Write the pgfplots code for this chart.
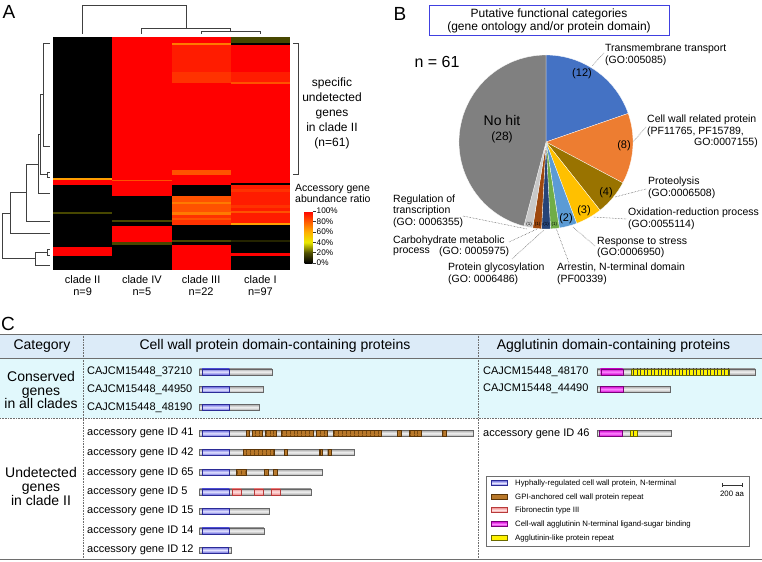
\documentclass[border=0pt]{standalone}
\usepackage{pgfplots}
\pgfplotsset{compat=1.18}
\usepackage{fontspec}
\setmainfont{Liberation Sans}
\usetikzlibrary{patterns.meta}

% pie colours
\definecolor{cTM}{HTML}{4472C4}
\definecolor{cCW}{HTML}{ED7D31}
\definecolor{cPR}{HTML}{997300}
\definecolor{cOX}{HTML}{FFC000}
\definecolor{cRS}{HTML}{5B9BD5}
\definecolor{cAR}{HTML}{70AD47}
\definecolor{cPG}{HTML}{264478}
\definecolor{cCB}{HTML}{9E480E}
\definecolor{cRT}{HTML}{C8C8C8}
\definecolor{cNH}{HTML}{808080}
\definecolor{boxblue}{HTML}{4040E0}
% heatmap colours (read off the colour scale)
\definecolor{h100}{HTML}{FF0000}
\definecolor{h95}{HTML}{FF1C00}
\definecolor{h90}{HTML}{FF3200}
\definecolor{h85}{HTML}{FF5200}
\definecolor{h75}{HTML}{FF7A00}
\definecolor{h65}{HTML}{FF9E00}
\definecolor{h15}{HTML}{474700}
\definecolor{h8}{HTML}{242400}
% table + domains
\definecolor{headbg}{HTML}{DCEBF8}
\definecolor{consbg}{HTML}{E1F8FC}
\definecolor{rule}{HTML}{6E6E6E}
\definecolor{gpi}{HTML}{B8782A}
\definecolor{gpidark}{HTML}{5A3508}
\definecolor{hypD}{HTML}{2B2B96}
\definecolor{hypF}{HTML}{6A6ADE}
\definecolor{hypL}{HTML}{E4E4FF}
\definecolor{magD}{HTML}{7A007A}
\definecolor{magF}{HTML}{D000D0}
\definecolor{magL}{HTML}{FF88FF}
\definecolor{fnD}{HTML}{B83A3A}
\definecolor{fnF}{HTML}{EE8C8C}
\definecolor{fnL}{HTML}{FFE0E0}
\definecolor{yelD}{HTML}{6B6B00}

\pgfplotsset{
  colormap={hm}{rgb255=(0,0,0) rgb255=(80,80,0) rgb255=(235,235,0) rgb255=(255,175,0) rgb255=(255,90,0) rgb255=(255,0,0)},
}

\newcommand\fz[2]{\fontsize{#1bp}{#2bp}\selectfont}
% rectangle drawn as a pgfplots path: x0, x1, y0, y1, style
\newcommand\prect[5]{\addplot[#5] coordinates {(#1,#3) (#2,#3) (#2,#4) (#1,#4)} -- cycle;}

\tikzset{
  dendro/.style={draw=black!75, line width=0.9bp},
  gbar/.style={draw=black!60, line width=0.4bp, top color=black!34, bottom color=black!34, middle color=black!5},
  hyph/.style={draw=hypD, line width=0.4bp, top color=hypF, bottom color=hypF, middle color=hypL},
  magd/.style={draw=magD, line width=0.4bp, top color=magF, bottom color=magF, middle color=magL},
  fnd/.style={draw=fnD, line width=0.4bp, top color=fnF, bottom color=fnF, middle color=fnL},
  gpid/.style={draw=gpidark, line width=0.4bp, fill=gpi, postaction={pattern color=gpidark, pattern={Lines[angle=90,distance=3.6bp,line width=0.6bp]}}},
  yeld/.style={draw=yelD, line width=0.4bp, fill=yellow, postaction={pattern color=black!75, pattern={Lines[angle=90,distance=3.5bp,line width=0.5bp]}}},
  lead/.style={black!75, line width=0.5bp, densely dotted},
  plab/.style={font=\fz{10.5}{11.6}, align=left, anchor=west, inner sep=0pt},
  glab/.style={font=\fz{11}{12}, anchor=west, inner sep=0pt},
  leg/.style={font=\fz{7.8}{8}, anchor=west, inner sep=0pt},
}

\begin{document}
\begin{tikzpicture}[x=1bp,y=-1bp]
\path[use as bounding box] (0,0) rectangle (762,562);

% ---------- panel C table background ----------
\fill[headbg] (0,334) rectangle (762,358);
\fill[consbg] (0,358) rectangle (762,418);
\draw[rule, line width=1bp] (0,334) -- (762,334);
\draw[rule, line width=0.9bp] (0,358) -- (762,358);
\draw[rule, line width=1bp] (0,559) -- (762,559);
\draw[rule, line width=0.6bp, densely dotted] (0,418) -- (762,418);
\draw[rule, line width=0.6bp, densely dotted] (83,334) -- (83,559);
\draw[rule, line width=0.6bp, densely dotted] (478,334) -- (478,559);

% ---------- panel A: column dendrogram ----------
\begin{axis}[at={(53bp,-34bp)}, anchor=south west, scale only axis,
  width=237bp, height=30bp, xmin=0, xmax=4, ymin=0, ymax=30, hide axis, clip=false]
\addplot[dendro] coordinates {(2.5,0) (2.5,3) (3.5,3) (3.5,0)};
\addplot[dendro] coordinates {(1.5,0) (1.5,6) (3,6) (3,3)};
\addplot[dendro] coordinates {(0.5,0) (0.5,29) (2.25,29) (2.25,6)};
\end{axis}

% ---------- panel A: row dendrogram ----------
\begin{axis}[at={(0bp,-37bp)}, anchor=north west, scale only axis,
  width=50bp, height=233bp, xmin=0, xmax=50, x dir=reverse,
  ymin=0, ymax=101, y dir=reverse, hide axis, clip=false]
\addplot[dendro] coordinates {(0,2.7) (6.7,2.7) (6.7,47.5) (0,47.5)};
\addplot[dendro] coordinates {(0,58.5) (3,58.5) (3,61) (0,61)};
\addplot[dendro] coordinates {(6.7,25.1) (10,25.1) (10,59.75) (3,59.75)};
\addplot[dendro] coordinates {(10,42.4) (11.7,42.4) (11.7,67.8) (0,67.8)};
\addplot[dendro] coordinates {(11.7,55.1) (24,55.1) (24,80) (0,80)};
\addplot[dendro] coordinates {(24,67.5) (40,67.5) (40,85) (0,85)};
\addplot[dendro] coordinates {(0,92) (3,92) (3,94.5) (0,94.5)};
\addplot[dendro] coordinates {(3,93.25) (15,93.25) (15,99) (0,99)};
\addplot[dendro] coordinates {(40,76.3) (47.3,76.3) (47.3,96.1) (15,96.1)};
\end{axis}

% ---------- panel A: heatmap (columns: clade II, IV, III, I; rows = genes) ----------
\begin{axis}[at={(53bp,-37bp)}, anchor=north west, scale only axis,
  width=237bp, height=233bp, xmin=0, xmax=4, ymin=0, ymax=101, y dir=reverse, hide axis]
% clade II
\prect{0}{1}{0}{101}{draw=none, fill=black}
\prect{0}{1}{61}{62}{draw=none, fill=h65}
\prect{0}{1}{62}{64}{draw=none, fill=h100}
\prect{0}{1}{76}{76.7}{draw=none, fill=h15}
\prect{0}{1}{91}{95}{draw=none, fill=h100}
% clade IV
\prect{1}{2}{0}{69}{draw=none, fill=h100}
\prect{1}{2}{62}{62.6}{draw=none, fill=h85}
\prect{1}{2}{69}{101}{draw=none, fill=black}
\prect{1}{2}{79.4}{80.4}{draw=none, fill=h15}
\prect{1}{2}{82}{89}{draw=none, fill=h100}
\prect{1}{2}{89}{90}{draw=none, fill=h15}
% clade III
\prect{2}{3}{0}{64}{draw=none, fill=h100}
\prect{2}{3}{2.5}{3.4}{draw=none, fill=h75}
\prect{2}{3}{3.4}{15}{draw=none, fill=h95}
\prect{2}{3}{15}{20}{draw=none, fill=h90}
\prect{2}{3}{57.5}{59.8}{draw=none, fill=h85}
\prect{2}{3}{64}{69}{draw=none, fill=black}
\prect{2}{3}{69}{76}{draw=none, fill=h85}
\prect{2}{3}{71.5}{72.2}{draw=none, fill=h75}
\prect{2}{3}{76}{77}{draw=none, fill=h75}
\prect{2}{3}{77}{81.5}{draw=none, fill=h90}
\prect{2}{3}{78.5}{79.2}{draw=none, fill=h85}
\prect{2}{3}{81.5}{90}{draw=none, fill=black}
\prect{2}{3}{88}{89}{draw=none, fill=h15}
\prect{2}{3}{90}{101}{draw=none, fill=h100}
% clade I
\prect{3}{4}{0}{2.5}{draw=none, fill=h15}
\prect{3}{4}{2.5}{3.5}{draw=none, fill=black}
\prect{3}{4}{3.5}{63.2}{draw=none, fill=h100}
\prect{3}{4}{15}{19.5}{draw=none, fill=h95}
\prect{3}{4}{19.5}{20.3}{draw=none, fill=h85}
\prect{3}{4}{63.2}{64.2}{draw=none, fill=black}
\prect{3}{4}{64.2}{81.5}{draw=none, fill=h95}
\prect{3}{4}{66}{67}{draw=none, fill=h90}
\prect{3}{4}{73}{74}{draw=none, fill=h90}
\prect{3}{4}{75.5}{76.3}{draw=none, fill=h85}
\prect{3}{4}{80.5}{81.5}{draw=none, fill=h65}
\prect{3}{4}{81.5}{101}{draw=none, fill=black}
\prect{3}{4}{88}{89}{draw=none, fill=h8}
\prect{3}{4}{93.8}{95}{draw=none, fill=h100}
\end{axis}

% ---------- panel A: colour scale ----------
\begin{axis}[at={(296bp,-263bp)}, anchor=south west, scale only axis,
  width=8bp, height=52bp, hide axis, xmin=0, xmax=1, ymin=0, ymax=1,
  colormap name=hm, point meta min=0, point meta max=100, colorbar,
  colorbar style={at={(parent axis.south west)}, anchor=south west,
    scale only axis, width=8bp, height=52bp,
    ytick={0,20,40,60,80,100}, yticklabels={0\%,20\%,40\%,60\%,80\%,100\%},
    ytick pos=right, yticklabel pos=right, tick align=outside,
    major tick length=3bp, ytick style={draw=black!80, line width=0.4bp},
    axis line style={draw=none},
    yticklabel style={font=\fz{8.2}{9}, inner sep=1bp}}]
\addplot[draw=none] coordinates {(0,0)};
\end{axis}

% ---------- panel B: pie (gene counts per category, n = 61) ----------
\begin{axis}[at={(459bp,-55bp)}, anchor=north west, scale only axis,
  width=174bp, height=174bp, xmin=-1, xmax=1, ymin=-1, ymax=1, hide axis, clip=false]
\addplot[draw=none] coordinates {(0,0)};
\pgfplotsextra{%
\foreach \a/\b/\c in {0/12/cTM, 12/20/cCW, 20/24/cPR, 24/27/cOX, 27/29/cRS,
                      29/30/cAR, 30/31/cPG, 31/32/cCB, 32/33/cRT, 33/61/cNH}{
  \pgfmathsetmacro\sa{90-\a/61*360}
  \pgfmathsetmacro\ea{90-\b/61*360}
  \filldraw[fill=\c, draw=white, line width=0.3bp] (axis cs:0,0) -- ++(\sa:87bp)
    arc[start angle=\sa, end angle=\ea, radius=87bp] -- cycle;
}}
\end{axis}

% ---------- panel C: cell wall protein domains (x in aa) ----------
\begin{axis}[at={(199.3bp,-334bp)}, anchor=north west, scale only axis,
  width=280bp, height=225bp, xmin=0, xmax=2800, ymin=334, ymax=559, y dir=reverse,
  hide axis, clip=false]
% CAJCM15448_37210, _44950, _48190
\prect{0}{725}{368.7}{374.7}{gbar}
\prect{27}{300}{368.7}{374.7}{hyph}
\prect{0}{640}{386.5}{392.5}{gbar}
\prect{27}{300}{386.5}{392.5}{hyph}
\prect{0}{600}{404.3}{410.3}{gbar}
\prect{27}{300}{404.3}{410.3}{hyph}
% ID 41
\prect{0}{2735}{430.3}{436.3}{gbar}
\prect{27}{300}{430.3}{436.3}{hyph}
\prect{467}{502}{430.3}{436.3}{gpid}
\prect{524}{624}{430.3}{436.3}{gpid}
\prect{657}{764}{430.3}{436.3}{gpid}
\prect{814}{1134}{430.3}{436.3}{gpid}
\prect{1167}{1280}{430.3}{436.3}{gpid}
\prect{1334}{1814}{430.3}{436.3}{gpid}
\prect{1980}{2014}{430.3}{436.3}{gpid}
\prect{2100}{2214}{430.3}{436.3}{gpid}
\prect{2430}{2467}{430.3}{436.3}{gpid}
% ID 42
\prect{0}{1550}{449.3}{455.3}{gbar}
\prect{27}{300}{449.3}{455.3}{hyph}
\prect{440}{747}{449.3}{455.3}{gpid}
\prect{847}{880}{449.3}{455.3}{gpid}
\prect{1197}{1230}{449.3}{455.3}{gpid}
\prect{1284}{1317}{449.3}{455.3}{gpid}
% ID 65
\prect{0}{1225}{469.3}{475.3}{gbar}
\prect{27}{300}{469.3}{475.3}{hyph}
\prect{367}{464}{469.3}{475.3}{gpid}
\prect{650}{684}{469.3}{475.3}{gpid}
\prect{740}{777}{469.3}{475.3}{gpid}
% ID 5
\prect{0}{1115}{488.7}{494.7}{gbar}
\prect{27}{300}{488.7}{494.7}{hyph}
\prect{327}{417}{488.7}{494.7}{fnd}
\prect{547}{637}{488.7}{494.7}{fnd}
\prect{717}{807}{488.7}{494.7}{fnd}
% ID 15, 14, 12
\prect{0}{700}{508.3}{514.3}{gbar}
\prect{27}{300}{508.3}{514.3}{hyph}
\prect{0}{645}{527.7}{533.7}{gbar}
\prect{27}{300}{527.7}{533.7}{hyph}
\prect{0}{315}{547}{553}{gbar}
\prect{27}{290}{547}{553}{hyph}
\end{axis}

% ---------- panel C: agglutinin domains (x in aa) ----------
\begin{axis}[at={(597bp,-334bp)}, anchor=north west, scale only axis,
  width=160bp, height=225bp, xmin=0, xmax=1600, ymin=334, ymax=559, y dir=reverse,
  hide axis, clip=false]
\prect{0}{1580}{368.7}{374.7}{gbar}
\prect{37}{257}{368.7}{374.7}{magd}
\prect{340}{1320}{368.7}{374.7}{yeld}
\prect{0}{730}{386.2}{392.2}{gbar}
\prect{30}{260}{386.2}{392.2}{magd}
\prect{0}{740}{430.3}{436.3}{gbar}
\prect{20}{250}{430.3}{436.3}{magd}
\prect{330}{400}{430.3}{436.3}{yeld}
\end{axis}

% ---------- texts, panel A ----------
\node[font=\fz{19}{19}, inner sep=0pt] at (9,12) {A};
\draw[black!75, line width=1bp] (293,43.3) -- (298.3,43.3) -- (298.3,175) -- (293,175);
\node[font=\fz{12}{15}, align=center, inner sep=0pt] at (332,113)
  {specific\\undetected\\genes\\in clade II\\(n=61)};
\node[font=\fz{10.5}{11.5}, align=left, anchor=west, inner sep=0pt] at (295,193.5)
  {Accessory gene\\abundance ratio};
\node[font=\fz{11}{12}, align=center, inner sep=0pt] at (82.6,286) {clade II\\n=9};
\node[font=\fz{11}{12}, align=center, inner sep=0pt] at (141.9,286) {clade IV\\n=5};
\node[font=\fz{11}{12}, align=center, inner sep=0pt] at (201.1,286) {clade III\\n=22};
\node[font=\fz{11}{12}, align=center, inner sep=0pt] at (260.4,286) {clade I\\n=97};

% ---------- texts, panel B ----------
\node[font=\fz{19}{19}, inner sep=0pt] at (400,14) {B};
\draw[boxblue, line width=0.9bp] (429,5) rectangle (669,35);
\node[font=\fz{12}{13}, align=center, inner sep=0pt] at (549,20.5)
  {Putative functional categories\\(gene ontology and/or protein domain)};
\node[font=\fz{16}{16}, inner sep=0pt] at (437,62) {n = 61};
\node[font=\fz{14}{14}, inner sep=0pt] at (502,120) {No hit};
\node[font=\fz{12}{12}, inner sep=0pt] at (502,137) {(28)};
\node[font=\fz{11}{11}, inner sep=0pt] at (582,74) {(12)};
\node[font=\fz{11}{11}, inner sep=0pt] at (624,146) {(8)};
\node[font=\fz{11}{11}, inner sep=0pt] at (606,193) {(4)};
\node[font=\fz{11}{11}, inner sep=0pt] at (584,211) {(3)};
\node[font=\fz{11}{11}, inner sep=0pt] at (566,219) {(2)};
\foreach \x in {529,537.6,546,554.4}{\node[font=\fz{4.5}{5}, inner sep=0pt] at (\x,224) {(1)};}

\node[plab] at (605,55) {Transmembrane transport\\(GO:005085)};
\draw[lead] (604,53) -- (592,66);
\node[plab] at (647,125.5) {Cell wall related protein\\(PF11765, PF15789,};
\node[font=\fz{10.5}{11.6}, anchor=east, inner sep=0pt] at (758,143) {GO:0007155)};
\draw[lead] (646,127) -- (633,142);
\node[plab] at (648,187.5) {Proteolysis\\(GO:0006508)};
\draw[lead] (646,189) -- (615,197);
\node[plab] at (628,219) {Oxidation-reduction process\\(GO:0055114)};
\draw[lead] (626,219) -- (593,217);
\node[plab] at (597,247.5) {Response to stress\\(GO:0006950)};
\draw[lead] (595,246) -- (573,227);
\node[plab] at (557,273.5) {Arrestin, N-terminal domain\\(PF00339)};
\draw[lead] (569,263) -- (556,228);
\node[plab] at (448,273.5) {Protein glycosylation\\(GO: 0006486)};
\draw[lead] (512,259) -- (544,230);
\node[plab] at (393,241) {Carbohydrate metabolic};
\node[plab] at (393,252) {process};
\node[plab] at (439,252) {(GO: 0005975)};
\draw[lead] (509,242) -- (537,229);
\node[plab] at (393,211) {Regulation of\\transcription\\(GO: 0006355)};
\draw[lead] (463,216) -- (527,229);

% ---------- texts, panel C ----------
\node[font=\fz{19}{19}, inner sep=0pt] at (8,323.5) {C};
\node[font=\fz{14}{14}, inner sep=0pt] at (42,346) {Category};
\node[font=\fz{14}{14}, inner sep=0pt] at (275,346) {Cell wall protein domain-containing proteins};
\node[font=\fz{14}{14}, inner sep=0pt] at (613.5,346) {Agglutinin domain-containing proteins};
\node[font=\fz{14}{13.2}, align=center, inner sep=0pt] at (41,390) {Conserved\\genes\\in all clades};
\node[font=\fz{14}{14}, align=center, inner sep=0pt] at (41,486) {Undetected\\genes\\in clade II};

\node[glab] at (87,371.7) {CAJCM15448\_37210};
\node[glab] at (87,389.5) {CAJCM15448\_44950};
\node[glab] at (87,407.3) {CAJCM15448\_48190};
\node[glab] at (87,433.3) {accessory gene ID 41};
\node[glab] at (87,452.3) {accessory gene ID 42};
\node[glab] at (87,472.3) {accessory gene ID 65};
\node[glab] at (87,491.7) {accessory gene ID 5};
\node[glab] at (87,511.3) {accessory gene ID 15};
\node[glab] at (87,530.7) {accessory gene ID 14};
\node[glab] at (87,550) {accessory gene ID 12};
\node[glab] at (483,371.7) {CAJCM15448\_48170};
\node[glab] at (483,389.2) {CAJCM15448\_44490};
\node[glab] at (483,433.3) {accessory gene ID 46};

% legend
\draw[rule, line width=0.8bp, fill=white] (486,476) rectangle (749,546);
\draw[hyph] (491,480.5) rectangle (507,485.5);
\draw[draw=gpidark, line width=0.4bp, fill=gpi] (491,494.5) rectangle (507,499.5);
\draw[fnd] (491,507.5) rectangle (507,512.5);
\draw[magd] (491,521.5) rectangle (507,526.5);
\draw[draw=yelD, line width=0.4bp, fill=yellow] (491,535.5) rectangle (507,540.5);
\node[leg] at (515,483) {Hyphally-regulated cell wall protein, N-terminal};
\node[leg] at (515,497) {GPI-anchored cell wall protein repeat};
\node[leg] at (515,510) {Fibronectin type III};
\node[leg] at (515,524) {Cell-wall agglutinin N-terminal ligand-sugar binding};
\node[leg] at (515,538) {Agglutinin-like protein repeat};
\draw[black!80, line width=0.6bp] (722,485) -- (742,485) (722,483) -- (722,487) (742,483) -- (742,487);
\node[font=\fz{7.8}{8}, inner sep=0pt] at (732,494) {200 aa};
\end{tikzpicture}
\end{document}
